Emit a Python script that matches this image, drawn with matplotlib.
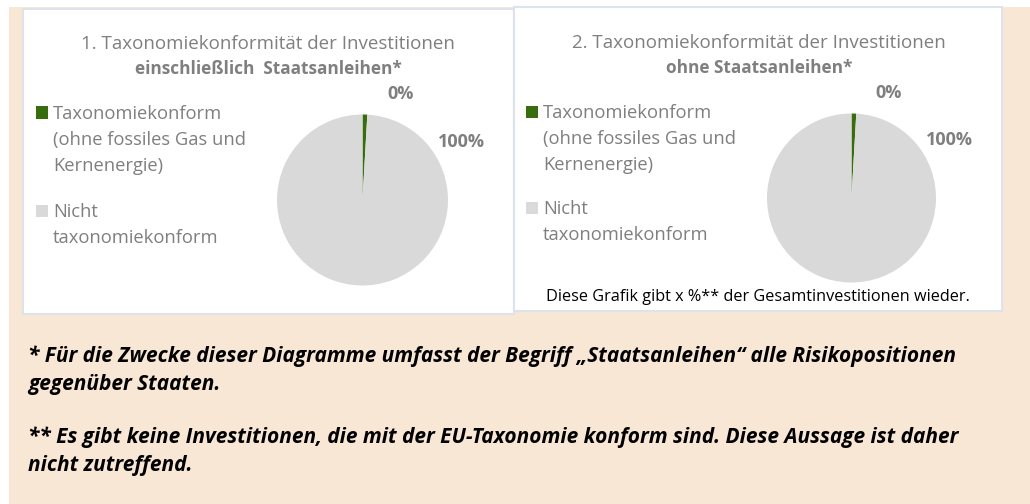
import matplotlib
matplotlib.use("Agg")
import matplotlib.pyplot as plt
from matplotlib.patches import Rectangle

# ── DATA ─────────────────────────────────────────────────────────────────────
categories = ["Taxonomiekonform\n(ohne fossiles Gas und\nKernenergie)",
              "Nicht\ntaxonomiekonform"]
share_incl = [0.9, 99.1]   # mit Staatsanleihen
share_excl = [0.9, 99.1]   # ohne Staatsanleihen
pct_labels = ["0%", "100%"]
titles = [("1. Taxonomiekonformität der Investitionen", "einschließlich  Staatsanleihen*"),
          ("2. Taxonomiekonformität der Investitionen", "ohne Staatsanleihen*")]
note = "Diese Grafik gibt x %** der Gesamtinvestitionen wieder."
footnotes = [["* Für die Zwecke dieser Diagramme umfasst der Begriff „Staatsanleihen“ alle Risikopositionen",
              "gegenüber Staaten."],
             ["** Es gibt keine Investitionen, die mit der EU-Taxonomie konform sind. Diese Aussage ist daher",
              "nicht zutreffend."]]

colors = ["#386D0F", "#D9D9D9"]
grey_txt = "#7F7F7F"
peach = "#F9E7D6"

W, H = 1030, 504
plt.rcParams['font.family'] = ['Open Sans', 'DejaVu Sans']
fig = plt.figure(figsize=(W / 100, H / 100), dpi=100)
fig.patch.set_facecolor("white")

def fx(x): return x / W
def fy(y): return 1 - y / H

# peach background
fig.patches.append(Rectangle((fx(9), 0), 1 - fx(9), fy(7), transform=fig.transFigure,
                             facecolor=peach, edgecolor="none", zorder=0))

# panels: box (left, top, right, bottom) px, pie centre / radius, title x, legend x, baselines
panels = [dict(box=(23, 9, 514, 314), cx=362.5, cy=200, r=85.5, tx=268, ty=(49, 74),
               lx=36, ly=(119, 217), vals=share_incl),
          dict(box=(514, 7, 1002, 311), cx=851.5, cy=198, r=84.5, tx=759, ty=(48, 73),
               lx=526, ly=(118, 214), vals=share_excl)]

for p, (t1, t2) in zip(panels, titles):
    l, t, rr, b = p['box']
    fig.patches.append(Rectangle((fx(l), fy(b)), fx(rr) - fx(l), fy(t) - fy(b),
                                 transform=fig.transFigure, facecolor="white",
                                 edgecolor="#DCE3EB", lw=1.5, zorder=1))
    fig.text(fx(p['tx']), fy(p['ty'][0]), t1, ha="center", va="baseline",
             fontsize=13.5, color=grey_txt)
    fig.text(fx(p['tx']), fy(p['ty'][1]), t2, ha="center", va="baseline",
             fontsize=12.4, color=grey_txt, fontweight="bold")

    # pie
    r = p['r']
    ax = fig.add_axes([fx(p['cx'] - r), fy(p['cy'] + r), 2 * r / W, 2 * r / H])
    ax.set_zorder(3)
    ax.pie(p['vals'], colors=colors, startangle=90, counterclock=False,
           wedgeprops=dict(linewidth=0))
    ax.set_xlim(-1, 1)
    ax.set_ylim(-1, 1)
    ax.axis("off")
    ax.text(0.44, 1.18, pct_labels[0], ha="center", va="baseline", fontsize=13,
            fontweight="bold", color=grey_txt, clip_on=False)
    ax.text(1.16, 0.625, pct_labels[1], ha="center", va="baseline", fontsize=13,
            fontweight="bold", color=grey_txt, clip_on=False)

    # legend
    lx = p['lx']
    for lab, c, base in zip(categories, colors, p['ly']):
        fig.patches.append(Rectangle((fx(lx), fy(base - 0.5)), 12 / W, 12 / H,
                                     transform=fig.transFigure, facecolor=c,
                                     edgecolor="none", zorder=2))
        for j, line in enumerate(lab.split("\n")):
            fig.text(fx(lx + 17), fy(base + 26 * j), line, ha="left", va="baseline",
                     fontsize=13.2, color=grey_txt)

fig.text(fx(758), fy(301), note, ha="center", va="baseline", fontsize=11.7, color="black")

# footnotes
for para, base in zip(footnotes, (362, 443)):
    for j, line in enumerate(para):
        fig.text(fx(28), fy(base + 28 * j), line, ha="left", va="baseline", fontsize=15,
                 fontweight="bold", fontstyle="italic", color="black")

fig.savefig("out.png", dpi=100, facecolor=fig.get_facecolor())
